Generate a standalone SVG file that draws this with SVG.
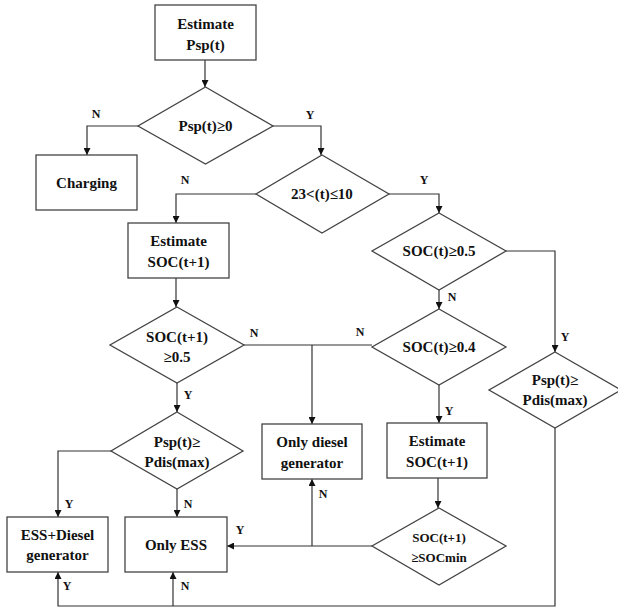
<svg xmlns="http://www.w3.org/2000/svg" width="618" height="610" viewBox="0 0 618 610">
<style>
.s{fill:#fff;stroke:#444;stroke-width:1.3}
.t{font-family:"Liberation Serif","Times New Roman",serif;font-weight:bold;font-size:15px;fill:#111;text-anchor:middle}
.sm{font-size:13px}
.l{font-family:"Liberation Serif","Times New Roman",serif;font-weight:bold;font-size:12px;fill:#111;text-anchor:middle}
.c{fill:none;stroke:#333;stroke-width:1.2}
</style>
<defs>
<marker id="a" viewBox="0 0 10 10" refX="10" refY="5" markerWidth="7" markerHeight="7" markerUnits="userSpaceOnUse" orient="auto">
<path d="M0,0 L10,5 L0,10 z" fill="#111"/>
</marker>
</defs>
<rect width="618" height="610" fill="#fff"/>
<g id="connectors">
<path class="c" d="M205,60 V87" marker-end="url(#a)"/>
<path class="c" d="M138,126 H87 V155" marker-end="url(#a)"/>
<path class="c" d="M273,126 H321 V155" marker-end="url(#a)"/>
<path class="c" d="M256,194 H176 V223" marker-end="url(#a)"/>
<path class="c" d="M389,194 H439 V213" marker-end="url(#a)"/>
<path class="c" d="M176,278 V307" marker-end="url(#a)"/>
<path class="c" d="M244,345 H372"/>
<path class="c" d="M312,345 V424" marker-end="url(#a)"/>
<path class="c" d="M177,383 V412" marker-end="url(#a)"/>
<path class="c" d="M111,451 H58 V517" marker-end="url(#a)"/>
<path class="c" d="M177,489 V517" marker-end="url(#a)"/>
<path class="c" d="M439,290 V309" marker-end="url(#a)"/>
<path class="c" d="M506,251 H555 V352" marker-end="url(#a)"/>
<path class="c" d="M439,385 V423" marker-end="url(#a)"/>
<path class="c" d="M438,478 V508" marker-end="url(#a)"/>
<path class="c" d="M372,546 H227" marker-end="url(#a)"/>
<path class="c" d="M312,546 V479" marker-end="url(#a)"/>
<path class="c" d="M555,428 V606 H58 V572" marker-end="url(#a)"/>
<path class="c" d="M173,606 V572" marker-end="url(#a)"/>
<text class="l" x="96" y="118">N</text>
<text class="l" x="310" y="119">Y</text>
<text class="l" x="185" y="184">N</text>
<text class="l" x="424" y="184">Y</text>
<text class="l" x="254" y="337">N</text>
<text class="l" x="360" y="336">N</text>
<text class="l" x="452" y="301">N</text>
<text class="l" x="565" y="341">Y</text>
<text class="l" x="188" y="399">Y</text>
<text class="l" x="69" y="508">Y</text>
<text class="l" x="188" y="508">N</text>
<text class="l" x="449" y="415">Y</text>
<text class="l" x="323" y="498">N</text>
<text class="l" x="240" y="534">Y</text>
<text class="l" x="67" y="590">Y</text>
<text class="l" x="185" y="590">N</text>
</g>
<g id="n1"><rect class="s" x="155" y="5" width="101" height="55"/><text class="t" x="205.5" y="29">Estimate</text><text class="t" x="205.5" y="50">Psp(t)</text></g>
<g id="d1"><polygon class="s" points="205.5,87 273,126 205.5,164 138,126"/><text class="t" x="205.5" y="131">Psp(t)≥0</text></g>
<g id="charging"><rect class="s" x="36" y="155" width="101" height="55"/><text class="t" x="86.5" y="188">Charging</text></g>
<g id="d2"><polygon class="s" points="322,155 389,194 322,233 256,194"/><text class="t" x="322" y="199">23&lt;(t)≤10</text></g>
<g id="est1"><rect class="s" x="128" y="223" width="101" height="55"/><text class="t" x="178.5" y="246">Estimate</text><text class="t" x="178.5" y="267">SOC(t+1)</text></g>
<g id="d3"><polygon class="s" points="177,307 244,345 177,383 110,345"/><text class="t" x="177" y="342">SOC(t+1)</text><text class="t" x="177" y="362">≥0.5</text></g>
<g id="d4"><polygon class="s" points="177,412 243,451 177,489 111,451"/><text class="t" x="177" y="447">Psp(t)≥</text><text class="t" x="177" y="467">Pdis(max)</text></g>
<g id="essdiesel"><rect class="s" x="7" y="517" width="101" height="55"/><text class="t" x="57.5" y="540">ESS+Diesel</text><text class="t" x="57.5" y="560">generator</text></g>
<g id="onlyess"><rect class="s" x="125" y="517" width="102" height="55"/><text class="t" x="176" y="550">Only ESS</text></g>
<g id="diesel"><rect class="s" x="262" y="424" width="100" height="55"/><text class="t" x="312" y="447">Only diesel</text><text class="t" x="312" y="468">generator</text></g>
<g id="d5"><polygon class="s" points="439,213 506,251 439,290 372,251"/><text class="t" x="439" y="256">SOC(t)≥0.5</text></g>
<g id="d6"><polygon class="s" points="439,309 506,347 439,385 372,347"/><text class="t" x="439" y="352">SOC(t)≥0.4</text></g>
<g id="est2"><rect class="s" x="387" y="423" width="100" height="55"/><text class="t" x="437" y="446">Estimate</text><text class="t" x="437" y="467">SOC(t+1)</text></g>
<g id="d7"><polygon class="s" points="439,508 506,546 439,585 372,546"/><text class="t sm" x="439" y="542">SOC(t+1)</text><text class="t sm" x="439" y="562">≥SOCmin</text></g>
<g id="d8"><polygon class="s" points="555,352 621,390 555,428 489,390"/><text class="t" x="555" y="385">Psp(t)≥</text><text class="t" x="555" y="405">Pdis(max)</text></g>
</svg>
